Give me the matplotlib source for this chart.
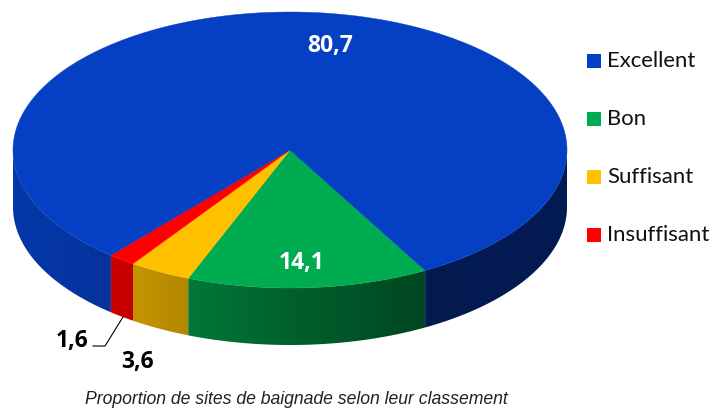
"""3D style pie of bathing site classes"""
import numpy as np
import matplotlib
matplotlib.use("Agg")
import matplotlib.pyplot as plt
from matplotlib.colors import to_rgb
from matplotlib.patches import Polygon, Rectangle

labels = ["Excellent", "Bon", "Suffisant", "Insuffisant"]
values = [80.7, 14.1, 3.6, 1.6]
value_text = ["80,7", "14,1", "3,6", "1,6"]
colors = ["#0540C4", "#00AC50", "#FFC000", "#FF0000"]
caption = "Proportion de sites de baignade selon leur classement"

# geometry of the pie in pixels
cx, cy = 290, 150
rx, ry = 277, 138
depth = 57
start = -60.8  # where the green slice begins, going clockwise


def rim(t):
    t = np.radians(t)
    return cx + rx * np.cos(t), cy - ry * np.sin(t)


def shade(x):
    # side wall gets darker from left to right
    return np.interp(x, [13, 110, 190, 300, 425, 567], [0.86, 0.80, 0.70, 0.55, 0.41, 0.42])


plt.rcParams["font.family"] = ["Lato", "DejaVu Sans"]
fig = plt.figure(figsize=(7.12, 4.09), dpi=100)
ax = fig.add_axes([0, 0, 1, 1])
ax.axis("off")

px = np.arange(0, 713)

# slice angles, green first then clockwise, blue last
order = [1, 2, 3, 0]
t0 = start
for i in order:
    t1 = t0 - values[i] * 3.6
    ts = np.linspace(t0, t1, int(abs(t1 - t0) * 2) + 2)

    # side wall, only the front half shows (sin < 0)
    rgb = np.array(to_rgb(colors[i]))
    front = ts[np.sin(np.radians(ts)) <= 0]
    # blue wraps around the back, so split it in its two front pieces
    pieces = np.split(front, np.where(np.diff(front) < -1)[0] + 1)
    grad = (shade(px)[None, :, None] * rgb[None, None, :]).clip(0, 1)
    for piece in pieces:
        if len(piece) < 2:
            continue
        xs, ys = rim(piece)
        wall = Polygon(np.c_[np.r_[xs, xs[::-1]], np.r_[ys, ys[::-1] + depth]],
                       closed=True, fc="none", ec="none", transform=ax.transData)
        ax.add_patch(wall)
        im = ax.imshow(grad, extent=(0, 712, 409, 0), aspect="auto", interpolation="bilinear", zorder=1)
        im.set_clip_path(wall)

    xs, ys = rim(ts)
    ax.fill(np.r_[cx, xs], np.r_[cy, ys], color=colors[i], lw=0.3, zorder=2)
    t0 = t1

ax.set_xlim(0, 712)
ax.set_ylim(409, 0)

# leader line for the smallest slice
ax.plot([123, 105, 93], [317, 346, 346], color="black", lw=0.8, zorder=3)

bold = dict(fontsize=16.5, fontweight="bold", ha="center", va="baseline", family=["Open Sans", "DejaVu Sans"], zorder=4)
ax.text(330, 52, value_text[0], color="white", **bold)
ax.text(302, 269, value_text[1], color="white", **bold)
ax.text(137, 368, value_text[2], color="black", **bold)
ax.text(72, 347, value_text[3], color="black", **bold)

# legend
for label, color, y in zip(labels, colors, [61, 119, 177, 235]):
    ax.add_patch(Rectangle((587, y - 7), 14, 14, color=color, lw=0))
    ax.text(607, y, label, fontsize=15.9, color="#111111", va="center", ha="left")

ax.text(296, 400, caption, fontsize=12.7, style="italic", color="#222222", ha="center", va="center",
        family=["Liberation Sans Narrow", "Liberation Sans"])

fig.savefig("out.png", dpi=100)
